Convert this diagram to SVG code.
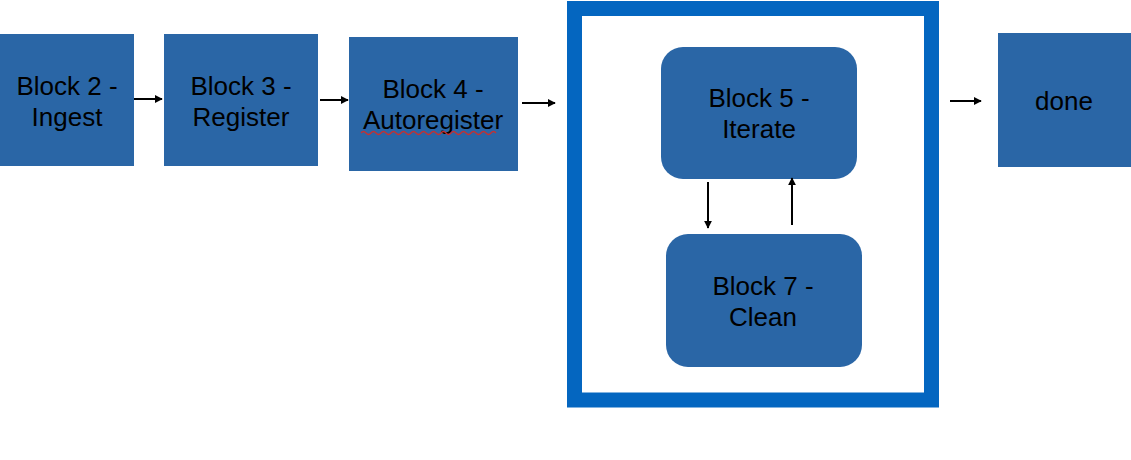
<svg xmlns="http://www.w3.org/2000/svg" width="1131" height="460" viewBox="0 0 1131 460">
<style>
.box{fill:#2a66a6;}
.t{font-family:"Liberation Sans",Arial,sans-serif;font-size:26px;fill:#000;text-anchor:middle;}
.c{stroke:#000;stroke-width:2;fill:none;marker-end:url(#ah);}
</style>
<defs>
<marker id="ah" viewBox="0 0 10 10" refX="9" refY="5" markerWidth="4" markerHeight="4" orient="auto" markerUnits="strokeWidth">
<path d="M0,0 L10,5 L0,10 z" fill="#000"/>
</marker>
</defs>
<rect width="1131" height="460" fill="#fff"/>
<g id="frame"><rect x="574.5" y="8.5" width="357" height="391.5" fill="none" stroke="#0466c0" stroke-width="15"/></g>
<g id="block2"><rect class="box" x="0" y="34" width="134" height="132"/><text class="t" x="67" y="95">Block 2 -</text><text class="t" x="67" y="126">Ingest</text></g>
<g id="block3"><rect class="box" x="164" y="34" width="154" height="132"/><text class="t" x="241" y="95">Block 3 -</text><text class="t" x="241" y="126">Register</text></g>
<g id="block4"><rect class="box" x="349" y="37" width="169" height="134"/><text class="t" x="433" y="98">Block 4 -</text><text class="t" x="433" y="129">Autoregister</text>
<path d="M361,133 q2.5,-3 5,0 t5,0 t5,0 t5,0 t5,0 t5,0 t5,0 t5,0 t5,0 t5,0 t5,0 t5,0 t5,0 t5,0 t5,0 t5,0 t5,0 t5,0 t5,0 t5,0 t5,0 t5,0 t5,0 t5,0 t5,0 t5,0 t5,0" fill="none" stroke="#c83030" stroke-width="1.3"/></g>
<g id="block5"><rect class="box" x="661" y="47" width="196" height="132" rx="22"/><text class="t" x="759" y="107">Block 5 -</text><text class="t" x="759" y="138">Iterate</text></g>
<g id="block7"><rect class="box" x="666" y="234" width="196" height="133" rx="22"/><text class="t" x="763" y="295">Block 7 -</text><text class="t" x="763" y="326">Clean</text></g>
<g id="done"><rect class="box" x="998" y="33" width="133" height="134"/><text class="t" x="1064" y="110">done</text></g>
<g id="connectors">
<line class="c" x1="134" y1="99" x2="162" y2="99"/>
<line class="c" x1="320" y1="100" x2="348" y2="100"/>
<line class="c" x1="522" y1="103" x2="555" y2="103"/>
<line class="c" x1="950" y1="101" x2="981" y2="101"/>
<line class="c" x1="708" y1="182" x2="708" y2="228"/>
<line class="c" x1="792" y1="225" x2="792" y2="178"/>
</g>
</svg>
